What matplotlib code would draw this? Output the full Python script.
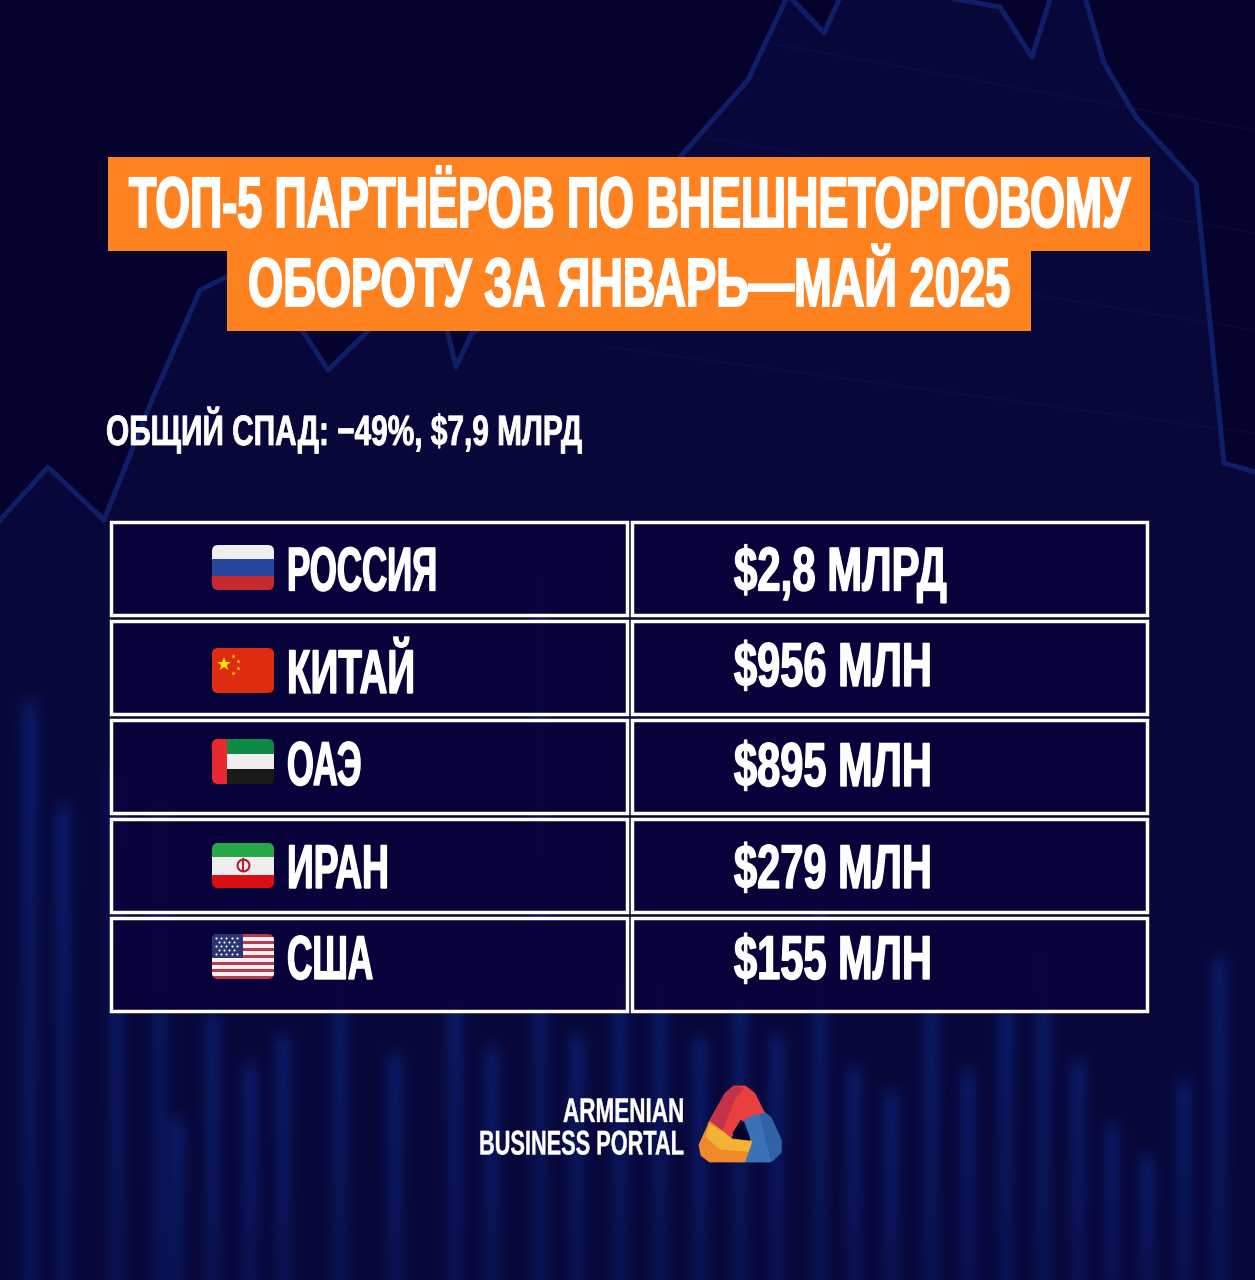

import numpy as np
import matplotlib
matplotlib.use("Agg")
import matplotlib.pyplot as plt
from matplotlib.patches import Rectangle, FancyBboxPatch, Polygon
from matplotlib.patheffects import AbstractPathEffect
from matplotlib.transforms import Affine2D
from matplotlib.colors import to_rgb

W, H = 1255, 1280
FONT = 'Liberation Sans'

title_lines = ["ТОП-5 ПАРТНЁРОВ ПО ВНЕШНЕТОРГОВОМУ", "ОБОРОТУ ЗА ЯНВАРЬ—МАЙ 2025"]
subtitle = "ОБЩИЙ СПАД: −49%, $7,9 МЛРД"
countries = ["РОССИЯ", "КИТАЙ", "ОАЭ", "ИРАН", "США"]
values = ["$2,8 МЛРД", "$956 МЛН", "$895 МЛН", "$279 МЛН", "$155 МЛН"]
logo_lines = ["ARMENIAN", "BUSINESS PORTAL"]

# decorative background line
bg_x = [0, 48, 104, 152, 200, 240, 304, 328, 400, 440, 456, 472, 560, 680, 748, 788, 824, 848, 1000, 1032, 1056, 1080, 1104, 1136, 1196, 1224, 1255]
bg_y = [520, 467, 520, 400, 290, 270, 333, 370, 300, 300, 367, 333, 290, 157, 80, -5, 33, -20, 7, 57, -20, -20, 63, 117, 183, 463, 472]
# decorative background columns: x centre, top y
col_x = [30, 63, 117, 160, 177, 213, 250, 283, 340, 395, 455, 492, 540, 577, 620, 660, 700, 740, 777, 820, 854, 891, 931, 968, 1006, 1043, 1078, 1112, 1147, 1184, 1219]
col_top = [685, 790, 750, 780, 1105, 1000, 1050, 1020, 960, 1040, 977, 1033, 550, 1020, 960, 967, 1023, 983, 1020, 880, 1053, 1077, 993, 1057, 993, 930, 1047, 1113, 1143, 1067, 943]

BG = '#06022e'
fig = plt.figure(figsize=(W/100, H/100), dpi=100, facecolor=BG)
ax = fig.add_axes([0, 0, 1, 1])
ax.axis('off')

ax.fill_between(bg_x, bg_y, H, color='#08073a', lw=0, zorder=0)
for (x0, y0, x1, y1) in [(768, 43, 1254, 130), (704, 137, 1254, 233), (1024, 293, 1254, 330), (608, 347, 1254, 433)]:
    ax.plot([x0, x1], [y0, y1], color='#10175c', lw=1.6, alpha=0.3, zorder=0.5)
ax.plot(bg_x, bg_y, color='#0e1f68', lw=3.6, zorder=1)

rgb = to_rgb('#0f3aa8')
for x, t in zip(col_x, col_top):
    n = 40
    xs = np.linspace(-1, 1, n)
    ys = np.linspace(0, 1, 60)
    a = np.exp(-(xs/0.5)**2)[None, :] * (0.36 - 0.14*ys)[:, None] * np.minimum(ys*(H-t)/25, 1)[:, None]
    img = np.zeros((60, n, 4)); img[..., :3] = rgb; img[..., 3] = a
    ax.imshow(img, extent=(x-22, x+22, H, t), origin='upper', aspect='auto', zorder=0.8, interpolation='bilinear')
ax.set_xlim(0, W); ax.set_ylim(H, 0)


class Tall(AbstractPathEffect):
    """Stretch a text upwards from its baseline (pixels) and fatten its strokes."""
    def __init__(self, y0, sy, lw):
        super().__init__()
        self.y0, self.sy, self.lw = y0, sy, lw
    def draw_path(self, renderer, gc, tpath, affine, rgbFace=None):
        a = affine + Affine2D().translate(0, -self.y0).scale(1, self.sy).translate(0, self.y0)
        g = renderer.new_gc()
        g.copy_properties(gc)
        g.set_linewidth(self.lw)
        g.set_foreground(rgbFace)
        g.set_joinstyle('miter')
        renderer.draw_path(g, tpath, a, rgbFace)
        g.restore()


CAP = 0.688  # cap height / em of the font


def cond_text(x_left, x_right, base, cap, s, lw=1.0, color='white'):
    t = ax.text(x_left, base, s, family=FONT, fontweight='bold', color=color, ha='left', va='baseline', fontsize=20, zorder=6)
    fig.canvas.draw()
    bb = t.get_window_extent()
    fs = 20 * (x_right - x_left) / bb.width
    t.set_fontsize(fs)
    em_px = fs * 100 / 72
    sy = (cap - lw * 100 / 72) / (em_px * CAP)
    t.set_path_effects([Tall(H - base, sy, lw)])
    return t


# banner
ax.add_patch(Rectangle((108, 157), 1042, 94, color='#ff8220', lw=0, zorder=3))
ax.add_patch(Rectangle((227, 251), 804, 80, color='#ff8220', lw=0, zorder=3))
cond_text(129, 1129, 227, 51, title_lines[0], lw=1.3)
cond_text(248, 1010, 306, 49, title_lines[1], lw=1.3)
cond_text(106, 582, 445, 30, subtitle, lw=0.6)

# table
row_t = [521.5, 620.5, 719.5, 818.5, 917.5]
row_h = 93
for t in row_t:
    for x, w in [(111, 516), (632, 515)]:
        ax.add_patch(Rectangle((x, t), w, row_h, fc='#07023a', ec='none', alpha=0.88, zorder=3))
        ax.add_patch(Rectangle((x, t), w, row_h, fc='none', ec='white', lw=2.5, zorder=3.1))

name_r = [437, 415, 361, 389, 373]
val_r = [947, 932, 932, 932, 932]
name_b = [590.5, 693, 785, 888, 979]
val_b = [590.5, 686, 786, 888, 979]
for i in range(5):
    cond_text(287, name_r[i], name_b[i], 44, countries[i])
    cond_text(734, val_r[i], val_b[i], 44, values[i])

# flags
flag_y = [545, 648, 739, 843, 934]
fx, fw, fh = 212, 62, 45


def flag(i, bands):
    top = flag_y[i]
    cb = FancyBboxPatch((fx+6, top+6), fw-12, fh-12, boxstyle='round,pad=6', fc='none', ec='none', zorder=5)
    ax.add_patch(cb)
    for (a, b, c) in bands:
        r = Rectangle((fx, top + a*fh), fw, (b-a)*fh, fc=c, lw=0, zorder=4)
        ax.add_patch(r); r.set_clip_path(cb)
    return cb


flag(0, [(0, .31, '#eeeeee'), (.31, .69, '#26479c'), (.69, 1, '#c62a30')])
flag(1, [(0, 1, '#de2c10')])
ax.plot([fx+12], [flag_y[1]+16], marker='*', ms=10, color='#ffde00', mew=0, lw=0, zorder=6)
ax.plot([fx+20.7, fx+26, fx+26, fx+20.7], [flag_y[1]+8, flag_y[1]+13, flag_y[1]+20, flag_y[1]+25], marker='*', ms=3.5, color='#ffc800', mew=0, lw=0, zorder=6)
cb = flag(2, [(0, .33, '#0f8a46'), (.33, .67, '#eeeeee'), (.67, 1, '#1a1a1a')])
r = Rectangle((fx, flag_y[2]), 15, fh, fc='#e8292f', lw=0, zorder=4.5); ax.add_patch(r); r.set_clip_path(cb)
flag(3, [(0, .3, '#25a84a'), (.3, .72, '#eeeeee'), (.72, 1, '#da0f16')])
ax.plot([fx+31], [flag_y[3]+22], marker='o', ms=8.5, mfc='none', mec='#b01c2e', mew=1.5, lw=0, zorder=6)
ax.plot([fx+31, fx+31], [flag_y[3]+16, flag_y[3]+28], color='#b01c2e', lw=1.4, zorder=6)
cb = flag(4, [(k/13, (k+1)/13, '#bd3a4c' if k % 2 == 0 else '#f2f2f2') for k in range(13)])
r = Rectangle((fx, flag_y[4]), 31, fh*7/13, fc='#2c3573', lw=0, zorder=4.5); ax.add_patch(r); r.set_clip_path(cb)
for j in range(5):
    off = 0 if j % 2 == 0 else 2.6
    sx_ = [fx+4+off+5.2*k for k in range(5 if j % 2 == 0 else 4)]
    ax.plot(sx_, [flag_y[4]+4+4*j]*len(sx_), 'o', ms=1.5, mew=0, color='white', zorder=6)

# footer
cond_text(563, 684, 1122, 24, logo_lines[0], lw=0.3)
cond_text(479, 684, 1154.5, 24, logo_lines[1], lw=0.3)


def blob(pts, color, z, lw=2.0):
    ax.add_patch(Polygon(pts, closed=True, fc=color, ec=color, lw=lw, joinstyle='round', zorder=z))


# logo: three overlapping ribbons
blob([(745, 1120), (760, 1110), (770, 1118), (780, 1140), (780, 1152), (770, 1161), (745, 1161), (751, 1146), (751, 1136)], '#3a72b8', 5)
blob([(760, 1112), (770, 1118), (780, 1140), (780, 1152), (772, 1160)], '#3262a6', 5.1)
blob([(709, 1124), (726, 1094), (734, 1087), (745, 1087), (754, 1094), (763, 1112), (752, 1114), (742, 1120), (728, 1140)], '#e8403f', 5.3)
blob([(709, 1124), (726, 1094), (734, 1087), (742, 1089), (734, 1098), (720, 1133)], '#c4324a', 5.4)
blob([(700, 1145), (710, 1123), (722, 1132), (732, 1140), (751, 1142), (744, 1161), (710, 1161), (702, 1155)], '#ef8a2c', 5.6)
blob([(710, 1125), (722, 1132), (732, 1140), (751, 1142), (748, 1151), (720, 1149), (706, 1136)], '#f2b234', 5.7, lw=1)
blob([(733, 1133), (741, 1120), (750, 1140), (735, 1138)], BG, 5.8, lw=0.5)

fig.savefig('out.png', dpi=100, facecolor=fig.get_facecolor())
